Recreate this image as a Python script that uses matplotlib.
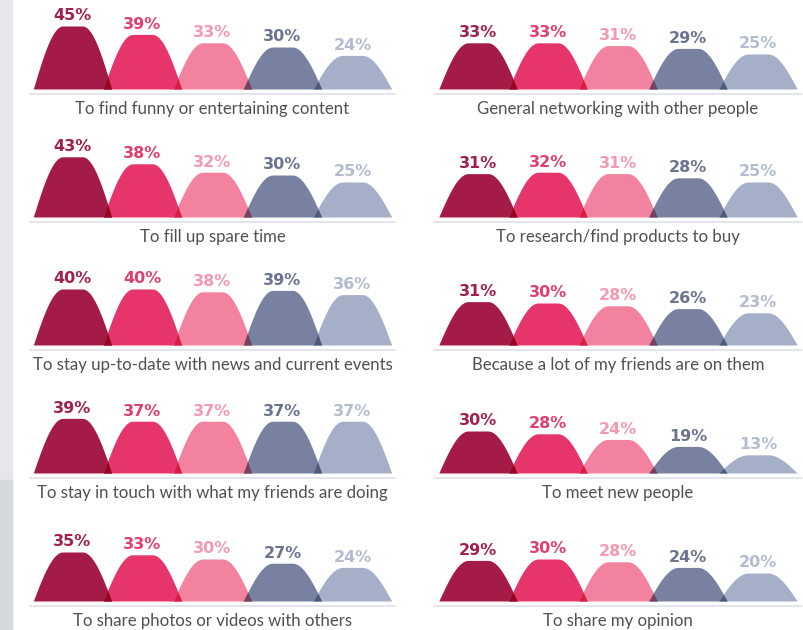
import numpy as np
import matplotlib.pyplot as plt
from matplotlib.colors import to_rgb
from matplotlib.patches import Rectangle

# データ
left_labels = ["To find funny or entertaining content",
               "To fill up spare time",
               "To stay up-to-date with news and current events",
               "To stay in touch with what my friends are doing",
               "To share photos or videos with others"]
left_values = [[45, 39, 33, 30, 24],
               [43, 38, 32, 30, 25],
               [40, 40, 38, 39, 36],
               [39, 37, 37, 37, 37],
               [35, 33, 30, 27, 24]]
right_labels = ["General networking with other people",
                "To research/find products to buy",
                "Because a lot of my friends are on them",
                "To meet new people",
                "To share my opinion"]
right_values = [[33, 33, 31, 29, 25],
                [31, 32, 31, 28, 25],
                [31, 30, 28, 26, 23],
                [30, 28, 24, 19, 13],
                [29, 30, 28, 24, 20]]

hump_colors = ["#a51b48", "#e5356a", "#f3829e", "#7882a0", "#a5b0c8"]
text_colors = ["#a0204e", "#e0406e", "#f39ab0", "#6b7390", "#b4bccf"]

W, H = 804, 630
fig = plt.figure(figsize=(W / 100, H / 100), dpi=100)
fig.patch.set_facecolor("white")

# 左端の背景
fig.patches.append(Rectangle((0, 0), 12 / W, 1, transform=fig.transFigure,
                             color="#e4e7eb", zorder=0))
fig.patches.append(Rectangle((0, 0), 12 / W, 150 / H, transform=fig.transFigure,
                             color="#d3d9df", zorder=0))

px_per_cat = 70.0
px_per_pct = 1.4
half_w = 0.56
ylo, yhi = -6, 60


def hump(x, c, h):
    u = np.abs(x - c) / half_w
    a = 0.25
    t = np.clip((u - a) / (1 - a), 0, 1)
    y = h * np.cos(np.pi / 2 * t)
    y[u >= 1] = 0
    return y


def multiply(c1, c2):
    a = np.array(to_rgb(c1))
    b = np.array(to_rgb(c2))
    return tuple(a * b)


def draw_panel(x_first, base_y, values, label):
    x0 = x_first - half_w * px_per_cat
    width = (4 + 2 * half_w) * px_per_cat
    bottom = base_y + (-ylo) * px_per_pct
    height = (yhi - ylo) * px_per_pct
    ax = fig.add_axes([x0 / W, 1 - bottom / H, width / W, height / H])
    ax.set_xlim(-half_w, 4 + half_w)
    ax.set_ylim(ylo, yhi)
    ax.axis("off")

    xs = np.linspace(-half_w, 4 + half_w, 2000)
    curves = [hump(xs, i, v) for i, v in enumerate(values)]
    for i, y in enumerate(curves):
        ax.fill_between(xs, 0, y, where=y > 0, color=hump_colors[i], lw=0, zorder=2)
    for i in range(4):
        ov = np.minimum(curves[i], curves[i + 1])
        ax.fill_between(xs, 0, ov, where=ov > 0,
                        color=multiply(hump_colors[i], hump_colors[i + 1]),
                        lw=0, zorder=3)
    for i, v in enumerate(values):
        ax.annotate(f"{v}%", xy=(i, v), xytext=(0, 7.3), textcoords="offset points",
                    ha="center", va="center", fontsize=11.5, fontweight="bold",
                    color=text_colors[i], family="DejaVu Sans")
    ax.axhline(-3.5, xmin=-0.01, xmax=1.01, color="#dfe3ea", lw=1.3, clip_on=False)
    ax.annotate(label, xy=(2, 0), xytext=(0, -14.3), textcoords="offset points",
                ha="center", va="center", fontsize=12.1, color="#4f4f55",
                family="Lato")


baselines = [89, 217, 345, 473, 601]
for r in range(5):
    draw_panel(72.5, baselines[r], left_values[r], left_labels[r])
    draw_panel(478, baselines[r], right_values[r], right_labels[r])

plt.savefig("out.png", dpi=100)
